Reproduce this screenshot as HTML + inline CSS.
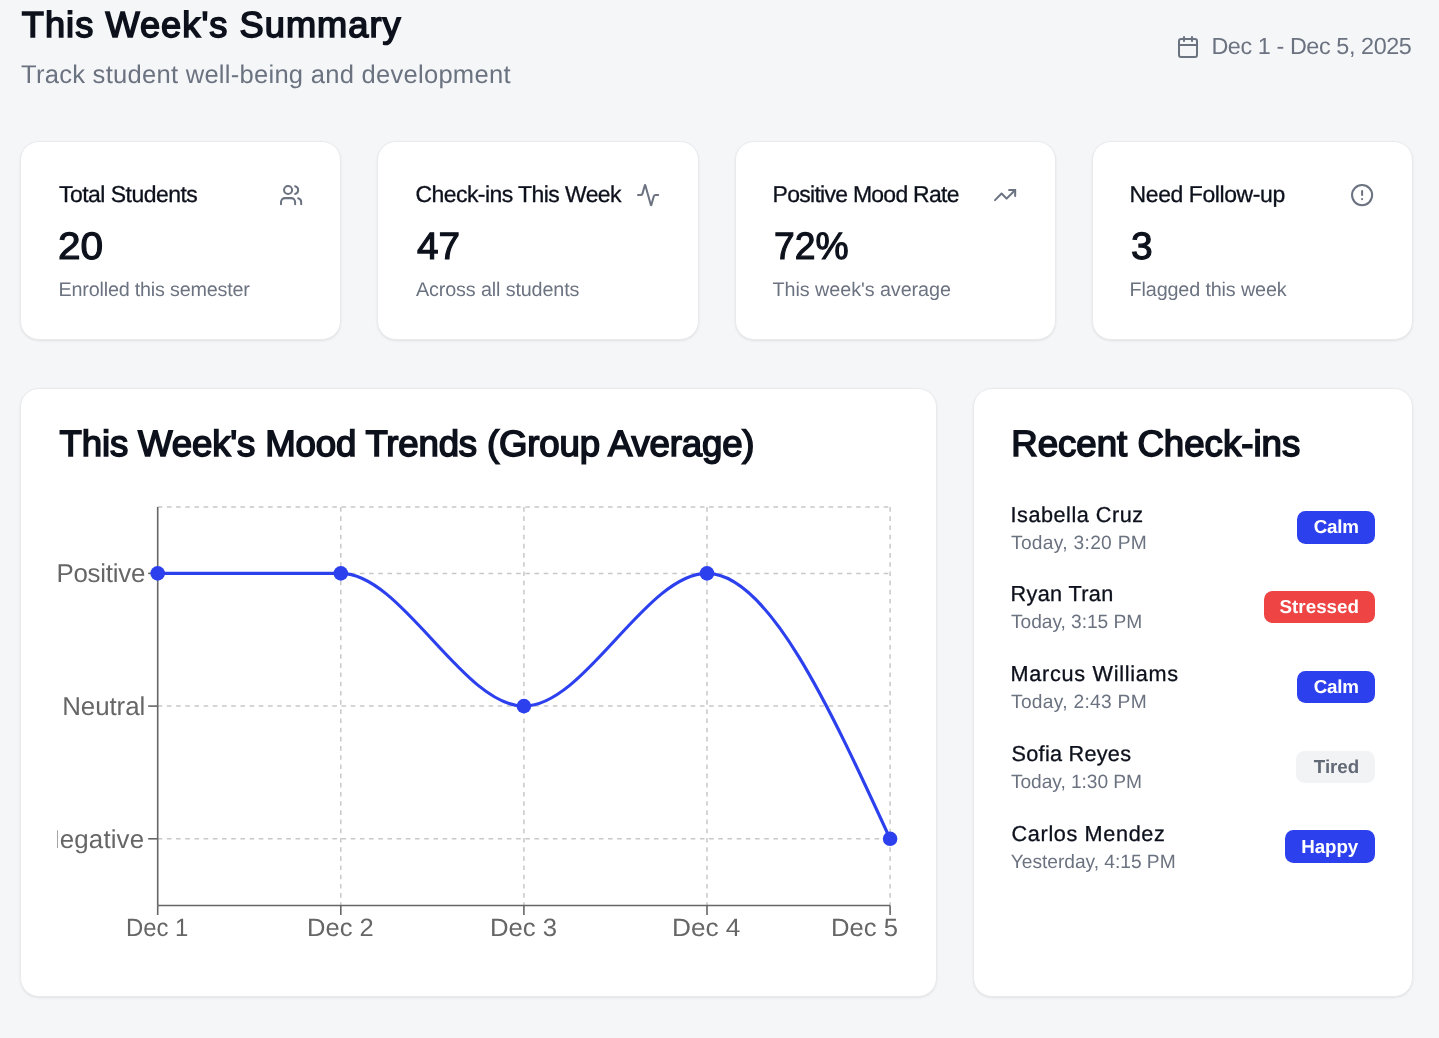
<!DOCTYPE html>
<html><head><meta charset="utf-8"><title>This Week's Summary</title>
<style>
html,body{margin:0;padding:0}
body{will-change:transform;width:1439px;height:1038px;background:#f5f6f8;position:relative;overflow:hidden;font-family:"Liberation Sans",sans-serif}
.t{position:absolute;white-space:nowrap;text-rendering:geometricPrecision}
.card{position:absolute;box-sizing:border-box;background:#fff;border:1px solid #e8eaee;border-radius:19px;box-shadow:0 1px 3px rgba(0,0,0,0.06),0 1px 2px rgba(0,0,0,0.04)}
.ic{position:absolute;fill:none;stroke:#6b7280;stroke-width:2;stroke-linecap:round;stroke-linejoin:round}
.badge{position:absolute;border-radius:8.5px}
.calm,.happy{background:#2c40ee}
.stressed{background:#ef4444}
.tired{background:#f2f3f5}
.chart{position:absolute;left:0;top:0}
</style></head><body>
<div id="title" class="t " style="left:21.80px;top:2.22px;font-size:36.21px;line-height:45.26px;font-weight:400;color:#0d111c;letter-spacing:1.028px;-webkit-text-stroke:1.60px #0d111c">This Week's Summary</div>
<div id="sub" class="t " style="left:21.00px;top:60.14px;font-size:25.58px;line-height:31.98px;font-weight:400;color:#6b7280;letter-spacing:0.253px">Track student well-being and development</div>
<svg class="ic" style="left:1175.8px;top:34.9px;width:24px;height:24px" viewBox="0 0 24 24"><path d="M8 2v4"/><path d="M16 2v4"/><rect width="18" height="18" x="3" y="4" rx="2"/><path d="M3 10h18"/></svg>
<div id="date" class="t " style="left:1211.40px;top:32.26px;font-size:23.40px;line-height:29.25px;font-weight:400;color:#6b7280;letter-spacing:-0.422px">Dec 1 - Dec 5, 2025</div>
<div class="card" style="left:20.00px;top:141.3px;width:321.25px;height:198.7px"></div>
<div id="lab0" class="t " style="left:59.00px;top:179.98px;font-size:22.97px;line-height:28.71px;font-weight:400;color:#0d111c;letter-spacing:-0.519px;-webkit-text-stroke:0.30px #0d111c">Total Students</div>
<div id="val0" class="t " style="left:58.00px;top:222.73px;font-size:38.15px;line-height:47.69px;font-weight:400;color:#0d111c;letter-spacing:0.000px;transform:scaleX(1.0637);transform-origin:0 0;-webkit-text-stroke:1.15px #0d111c">20</div>
<div id="ssub0" class="t " style="left:58.60px;top:278.09px;font-size:19.77px;line-height:24.71px;font-weight:400;color:#6b7280;letter-spacing:-0.204px">Enrolled this semester</div>
<svg class="ic" style="left:278.65px;top:182.8px;width:24.2px;height:24.2px" viewBox="0 0 24 24"><path d="M16 21v-2a4 4 0 0 0-4-4H6a4 4 0 0 0-4 4v2"/><circle cx="9" cy="7" r="4"/><path d="M22 21v-2a4 4 0 0 0-3-3.87"/><path d="M16 3.13a4 4 0 0 1 0 7.75"/></svg>
<div class="card" style="left:377.25px;top:141.3px;width:321.25px;height:198.7px"></div>
<div id="lab1" class="t " style="left:415.60px;top:179.98px;font-size:22.97px;line-height:28.71px;font-weight:400;color:#0d111c;letter-spacing:-0.567px;-webkit-text-stroke:0.30px #0d111c">Check-ins This Week</div>
<div id="val1" class="t " style="left:416.60px;top:222.73px;font-size:38.15px;line-height:47.69px;font-weight:400;color:#0d111c;letter-spacing:0.000px;transform:scaleX(1.0151);transform-origin:0 0;-webkit-text-stroke:1.15px #0d111c">47</div>
<div id="ssub1" class="t " style="left:416.00px;top:278.09px;font-size:19.77px;line-height:24.71px;font-weight:400;color:#6b7280;letter-spacing:-0.139px">Across all students</div>
<svg class="ic" style="left:635.90px;top:182.8px;width:24.2px;height:24.2px" viewBox="0 0 24 24"><path d="M22 12h-2.48a2 2 0 0 0-1.93 1.46l-2.35 8.36a.25.25 0 0 1-.48 0L9.24 2.18a.25.25 0 0 0-.48 0l-2.35 8.36A2 2 0 0 1 4.49 12H2"/></svg>
<div class="card" style="left:734.50px;top:141.3px;width:321.25px;height:198.7px"></div>
<div id="lab2" class="t " style="left:772.60px;top:179.98px;font-size:22.97px;line-height:28.71px;font-weight:400;color:#0d111c;letter-spacing:-0.723px;-webkit-text-stroke:0.30px #0d111c">Positive Mood Rate</div>
<div id="val2" class="t " style="left:773.60px;top:222.73px;font-size:38.15px;line-height:47.69px;font-weight:400;color:#0d111c;letter-spacing:0.000px;transform:scaleX(0.9763);transform-origin:0 0;-webkit-text-stroke:1.15px #0d111c">72%</div>
<div id="ssub2" class="t " style="left:772.60px;top:278.09px;font-size:19.77px;line-height:24.71px;font-weight:400;color:#6b7280;letter-spacing:-0.067px">This week&#39;s average</div>
<svg class="ic" style="left:993.15px;top:182.8px;width:24.2px;height:24.2px" viewBox="0 0 24 24"><polyline points="22 7 13.5 15.5 8.5 10.5 2 17"/><polyline points="16 7 22 7 22 13"/></svg>
<div class="card" style="left:1091.75px;top:141.3px;width:321.25px;height:198.7px"></div>
<div id="lab3" class="t " style="left:1129.60px;top:179.98px;font-size:22.97px;line-height:28.71px;font-weight:400;color:#0d111c;letter-spacing:-0.407px;-webkit-text-stroke:0.30px #0d111c">Need Follow-up</div>
<div id="val3" class="t " style="left:1130.60px;top:222.73px;font-size:38.15px;line-height:47.69px;font-weight:400;color:#0d111c;letter-spacing:0.000px;transform:scaleX(1.0226);transform-origin:0 0;-webkit-text-stroke:1.15px #0d111c">3</div>
<div id="ssub3" class="t " style="left:1129.60px;top:278.09px;font-size:19.77px;line-height:24.71px;font-weight:400;color:#6b7280;letter-spacing:-0.138px">Flagged this week</div>
<svg class="ic" style="left:1350.40px;top:182.8px;width:24.2px;height:24.2px" viewBox="0 0 24 24"><circle cx="12" cy="12" r="10"/><line x1="12" x2="12" y1="8" y2="12"/><line x1="12" x2="12.01" y1="16" y2="16"/></svg>
<div class="card" style="left:20px;top:388.4px;width:916.67px;height:609px"></div>
<div id="ctitle" class="t " style="left:59.60px;top:421.42px;font-size:36.62px;line-height:45.77px;font-weight:400;color:#0d111c;letter-spacing:-0.173px;-webkit-text-stroke:1.60px #0d111c">This Week&#39;s Mood Trends (Group Average)</div>
<div class="card" style="left:972.67px;top:388.4px;width:440.33px;height:609px"></div>
<div id="rtitle" class="t " style="left:1011.20px;top:421.42px;font-size:36.62px;line-height:45.77px;font-weight:400;color:#0d111c;letter-spacing:0.006px;-webkit-text-stroke:1.60px #0d111c">Recent Check-ins</div>
<div id="name0" class="t " style="left:1010.60px;top:500.66px;font-size:21.66px;line-height:27.07px;font-weight:400;color:#0d111c;letter-spacing:0.509px;-webkit-text-stroke:0.30px #0d111c">Isabella Cruz</div>
<div id="time0" class="t " style="left:1011.00px;top:531.66px;font-size:19.19px;line-height:23.98px;font-weight:400;color:#6b7280;letter-spacing:0.300px">Today, 3:20 PM</div>
<div class="badge calm" style="left:1297.00px;top:511.20px;width:78.30px;height:32.4px"></div>
<div id="badge0" class="t " style="left:1313.80px;top:515.38px;font-size:18.75px;line-height:23.44px;font-weight:700;color:#fff;letter-spacing:-0.232px">Calm</div>
<div id="name1" class="t " style="left:1010.60px;top:580.46px;font-size:21.66px;line-height:27.07px;font-weight:400;color:#0d111c;letter-spacing:0.338px;-webkit-text-stroke:0.30px #0d111c">Ryan Tran</div>
<div id="time1" class="t " style="left:1011.00px;top:611.46px;font-size:19.19px;line-height:23.98px;font-weight:400;color:#6b7280;letter-spacing:-0.053px">Today, 3:15 PM</div>
<div class="badge stressed" style="left:1263.80px;top:591.00px;width:111.50px;height:32.4px"></div>
<div id="badge1" class="t " style="left:1279.60px;top:595.18px;font-size:18.75px;line-height:23.44px;font-weight:700;color:#fff;letter-spacing:0.015px">Stressed</div>
<div id="name2" class="t " style="left:1010.60px;top:660.26px;font-size:21.66px;line-height:27.07px;font-weight:400;color:#0d111c;letter-spacing:0.708px;-webkit-text-stroke:0.30px #0d111c">Marcus Williams</div>
<div id="time2" class="t " style="left:1011.00px;top:691.26px;font-size:19.19px;line-height:23.98px;font-weight:400;color:#6b7280;letter-spacing:0.292px">Today, 2:43 PM</div>
<div class="badge calm" style="left:1297.00px;top:670.80px;width:78.30px;height:32.4px"></div>
<div id="badge2" class="t " style="left:1313.80px;top:674.98px;font-size:18.75px;line-height:23.44px;font-weight:700;color:#fff;letter-spacing:-0.232px">Calm</div>
<div id="name3" class="t " style="left:1011.60px;top:740.06px;font-size:21.66px;line-height:27.07px;font-weight:400;color:#0d111c;letter-spacing:0.260px;-webkit-text-stroke:0.30px #0d111c">Sofia Reyes</div>
<div id="time3" class="t " style="left:1011.00px;top:771.06px;font-size:19.19px;line-height:23.98px;font-weight:400;color:#6b7280;letter-spacing:-0.070px">Today, 1:30 PM</div>
<div class="badge tired" style="left:1296.40px;top:750.60px;width:78.90px;height:32.4px"></div>
<div id="badge3" class="t " style="left:1313.80px;top:754.78px;font-size:18.75px;line-height:23.44px;font-weight:700;color:#636a77;letter-spacing:-0.025px">Tired</div>
<div id="name4" class="t " style="left:1011.60px;top:819.86px;font-size:21.66px;line-height:27.07px;font-weight:400;color:#0d111c;letter-spacing:0.633px;-webkit-text-stroke:0.30px #0d111c">Carlos Mendez</div>
<div id="time4" class="t " style="left:1010.80px;top:850.86px;font-size:19.19px;line-height:23.98px;font-weight:400;color:#6b7280;letter-spacing:-0.030px">Yesterday, 4:15 PM</div>
<div class="badge happy" style="left:1285.20px;top:830.40px;width:90.10px;height:32.4px"></div>
<div id="badge4" class="t " style="left:1301.20px;top:834.58px;font-size:18.75px;line-height:23.44px;font-weight:700;color:#fff;letter-spacing:-0.050px">Happy</div>
<svg class="chart" width="1439" height="1038" viewBox="0 0 1439 1038"><g stroke="#c8c8c8" stroke-width="1.5" stroke-dasharray="4.595 4.595" fill="none"><line x1="340.79999999999995" y1="507.1" x2="340.79999999999995" y2="905.2"/><line x1="523.9" y1="507.1" x2="523.9" y2="905.2"/><line x1="707.0" y1="507.1" x2="707.0" y2="905.2"/><line x1="890.0999999999999" y1="507.1" x2="890.0999999999999" y2="905.2"/><line x1="157.7" y1="507.1" x2="890.1" y2="507.1"/><line x1="157.7" y1="573.4" x2="890.1" y2="573.4"/><line x1="157.7" y1="706.1" x2="890.1" y2="706.1"/><line x1="157.7" y1="838.8" x2="890.1" y2="838.8"/></g><g stroke="#666" stroke-width="1.6" fill="none"><line x1="157.7" y1="507.1" x2="157.7" y2="905.5"/><line x1="157.7" y1="905.5" x2="890.1" y2="905.5"/><line x1="148.2" y1="573.4" x2="157.7" y2="573.4"/><line x1="148.2" y1="706.1" x2="157.7" y2="706.1"/><line x1="148.2" y1="838.8" x2="157.7" y2="838.8"/><line x1="157.7" y1="905.5" x2="157.7" y2="915.0"/><line x1="340.79999999999995" y1="905.5" x2="340.79999999999995" y2="915.0"/><line x1="523.9" y1="905.5" x2="523.9" y2="915.0"/><line x1="707.0" y1="905.5" x2="707.0" y2="915.0"/><line x1="890.0999999999999" y1="905.5" x2="890.0999999999999" y2="915.0"/></g><path d="M157.70,573.40C218.73,573.40,279.77,573.40,340.80,573.40C401.83,573.40,462.87,706.10,523.90,706.10C584.93,706.10,645.97,573.40,707.00,573.40C768.03,573.40,829.07,706.10,890.10,838.80" stroke="#2c40ee" stroke-width="3.2" fill="none"/><circle cx="157.7" cy="573.4" r="7.3" fill="#2c40ee"/><circle cx="340.79999999999995" cy="573.4" r="7.3" fill="#2c40ee"/><circle cx="523.9" cy="706.1" r="7.3" fill="#2c40ee"/><circle cx="707.0" cy="573.4" r="7.3" fill="#2c40ee"/><circle cx="890.0999999999999" cy="838.8" r="7.3" fill="#2c40ee"/></svg>
<div id="clip" style="position:absolute;left:57.2px;top:470px;width:860px;height:520px;overflow:hidden">
<div id="ylab0" class="t " style="left:-0.80px;top:88.16px;font-size:25.87px;line-height:32.34px;font-weight:400;color:#666666;letter-spacing:-0.228px">Positive</div>
<div id="ylab1" class="t " style="left:5.00px;top:220.86px;font-size:25.87px;line-height:32.34px;font-weight:400;color:#666666;letter-spacing:-0.049px">Neutral</div>
<div id="ylab2" class="t " style="left:-16.20px;top:353.56px;font-size:25.87px;line-height:32.34px;font-weight:400;color:#666666;letter-spacing:0.142px">Negative</div>
</div>
<div id="xlab0" class="t " style="left:126.00px;top:912.81px;font-size:25.00px;line-height:31.25px;font-weight:400;color:#666666;letter-spacing:0.000px;transform:scaleX(0.9549);transform-origin:0 0">Dec 1</div>
<div id="xlab1" class="t " style="left:307.20px;top:912.81px;font-size:25.00px;line-height:31.25px;font-weight:400;color:#666666;letter-spacing:0.000px;transform:scaleX(1.0226);transform-origin:0 0">Dec 2</div>
<div id="xlab2" class="t " style="left:489.80px;top:912.81px;font-size:25.00px;line-height:31.25px;font-weight:400;color:#666666;letter-spacing:0.000px;transform:scaleX(1.0286);transform-origin:0 0">Dec 3</div>
<div id="xlab3" class="t " style="left:672.00px;top:912.81px;font-size:25.00px;line-height:31.25px;font-weight:400;color:#666666;letter-spacing:0.000px;transform:scaleX(1.0478);transform-origin:0 0">Dec 4</div>
<div id="xlab4" class="t " style="left:830.80px;top:912.81px;font-size:25.00px;line-height:31.25px;font-weight:400;color:#666666;letter-spacing:0.000px;transform:scaleX(1.0256);transform-origin:0 0">Dec 5</div>
</body></html>
